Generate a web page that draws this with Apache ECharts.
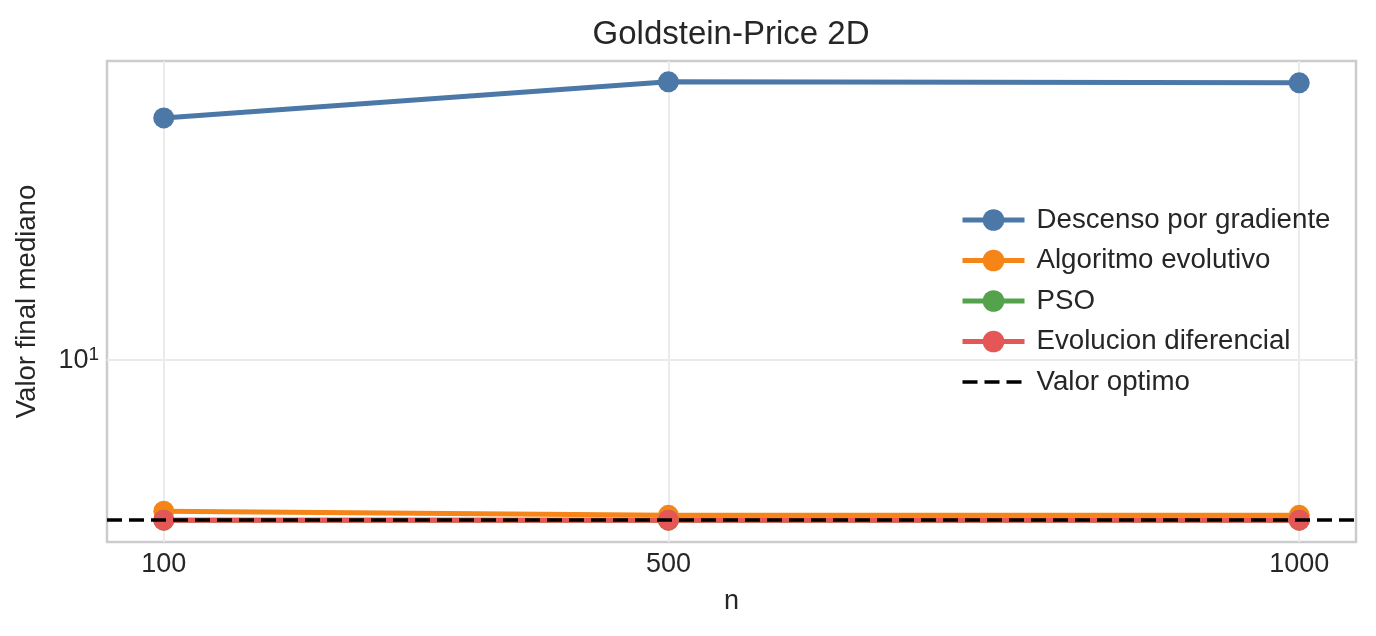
<!DOCTYPE html>
<html>
<head>
<meta charset="utf-8">
<script src="https://cdn.jsdelivr.net/npm/echarts@6/dist/echarts.min.js"></script>
<style>
    html, body { margin: 0; padding: 0; background: #fff; }
    #main { width: 1376px; height: 636px; }
</style>
</head>
<body>
<div id="main"></div>
<script>
var nValues = [100, 500, 1000];
var xTicks = [100, 500, 1000];

var descenso = [61.9, 81.2, 80.6];
var evolutivo = [3.21, 3.11, 3.11];
var pso = [3.0, 3.0, 3.0];
var diferencial = [3.0, 3.0, 3.0];
var optimo = 3.0;

var colors = ['#4C78A8', '#F58518', '#54A24B', '#E45756'];
var textColor = '#262626';
var font = 'Liberation Sans, Arial, sans-serif';

function pairs(values) {
    var result = [];
    for (var i = 0; i < nValues.length; i++) {
        result.push([nValues[i], values[i]]);
    }
    return result;
}

function lineSeries(name, values, color) {
    return {
        name: name,
        type: 'line',
        data: pairs(values),
        symbol: 'circle',
        symbolSize: 21,
        showSymbol: true,
        lineStyle: { color: color, width: 5 },
        itemStyle: { color: color },
        emphasis: { disabled: true },
        z: 2
    };
}

var myChart = echarts.init(document.getElementById('main'));

myChart.setOption({
    backgroundColor: '#fff',
    animation: false,
    textStyle: { fontFamily: font, color: textColor },
    title: {
        text: 'Goldstein-Price 2D',
        left: 726,
        textAlign: 'center',
        top: 13,
        textStyle: { fontFamily: font, fontSize: 33, fontWeight: 'normal', color: textColor }
    },
    legend: {
        orient: 'vertical',
        left: 955,
        top: 200,
        itemWidth: 62,
        itemHeight: 27,
        itemGap: 10.5,
        lineStyle: { width: 5 },
        textStyle: {
            fontFamily: font,
            fontSize: 27.7,
            color: textColor,
            lineHeight: 30,
            padding: [0, 0, 0, 7]
        },
        data: [
            'Descenso por gradiente',
            'Algoritmo evolutivo',
            'PSO',
            'Evolucion diferencial',
            { name: 'Valor optimo', itemStyle: { opacity: 0 }, lineStyle: { width: 3.5 } }
        ]
    },
    grid: {
        left: 107,
        right: 20,
        top: 61,
        bottom: 94,
        show: true,
        borderColor: '#cccccc',
        borderWidth: 2.5,
        backgroundColor: 'transparent'
    },
    xAxis: {
        type: 'value',
        min: 55,
        max: 1045,
        name: 'n',
        nameLocation: 'middle',
        nameGap: 46,
        nameTextStyle: { fontFamily: font, fontSize: 27, color: textColor },
        axisLine: { show: false },
        axisTick: { show: false, customValues: xTicks },
        axisLabel: {
            customValues: xTicks,
            margin: 9,
            fontFamily: font,
            fontSize: 27,
            color: textColor,
            formatter: function (value) {
                return String(value);
            }
        },
        splitLine: { show: true, lineStyle: { color: '#ebebeb', width: 2 } }
    },
    yAxis: {
        type: 'log',
        logBase: 10,
        min: 2.545,
        max: 95,
        name: 'Valor final mediano',
        nameLocation: 'middle',
        nameGap: 66,
        nameTextStyle: { fontFamily: font, fontSize: 27.5, color: textColor },
        axisLine: { show: false },
        axisTick: { show: false },
        axisLabel: {
            margin: 8,
            showMinLabel: false,
            showMaxLabel: false,
            formatter: function (value) {
                if (Math.abs(value - 10) < 1e-6) {
                    return '{b|10}{s|1}';
                }
                return '';
            },
            rich: {
                b: { fontFamily: font, fontSize: 27, color: textColor },
                s: { fontFamily: font, fontSize: 19, color: textColor, verticalAlign: 'top', padding: [0, 0, 10, 0] }
            }
        },
        splitLine: {
            show: true,
            showMinLine: false,
            showMaxLine: false,
            lineStyle: { color: '#ebebeb', width: 2 }
        }
    },
    series: [
        lineSeries('Descenso por gradiente', descenso, colors[0]),
        lineSeries('Algoritmo evolutivo', evolutivo, colors[1]),
        lineSeries('PSO', pso, colors[2]),
        lineSeries('Evolucion diferencial', diferencial, colors[3]),
        {
            name: 'Valor optimo',
            type: 'line',
            data: [],
            symbol: 'none',
            lineStyle: { color: '#000', width: 3.5, type: [15, 7] },
            itemStyle: { color: '#000' },
            z: 5,
            markLine: {
                silent: true,
                symbol: ['none', 'none'],
                label: { show: false },
                lineStyle: { color: '#000', width: 3.5, type: [15, 7] },
                emphasis: { disabled: true },
                data: [{ yAxis: optimo }]
            }
        }
    ]
});
</script>
</body>
</html>
